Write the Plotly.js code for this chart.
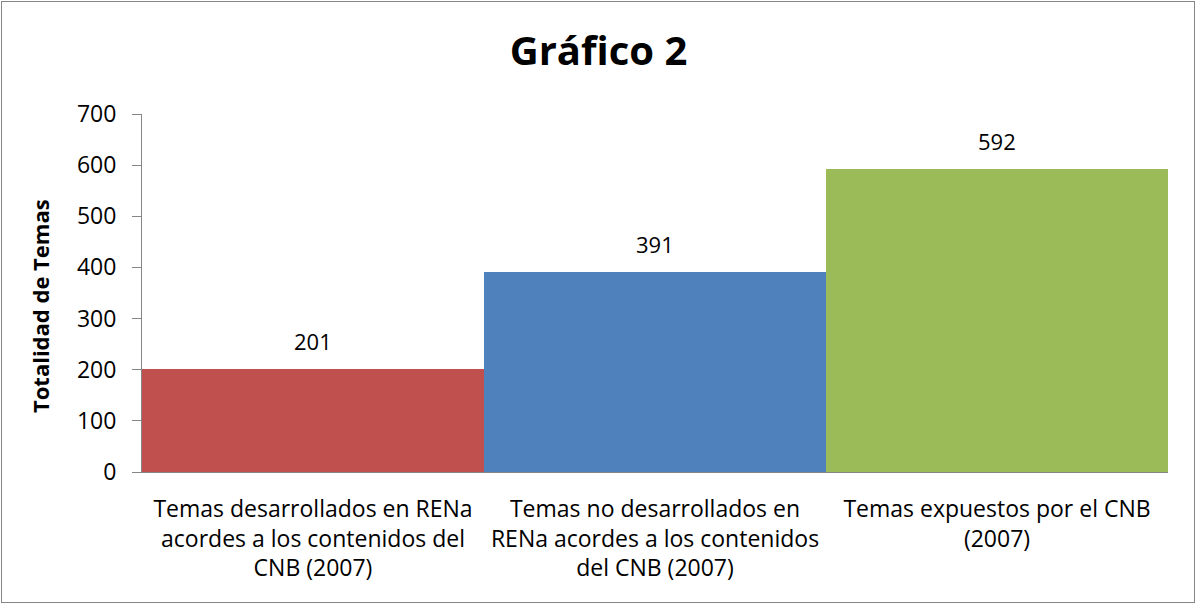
<!DOCTYPE html>
<html>
<head>
<meta charset="utf-8">
<script src="https://cdn.plot.ly/plotly-3.0.1.min.js"></script>
<style>
  html, body { margin: 0; padding: 0; background: #fff; }
  #chart { width: 1197px; height: 605px; }
  #frame { position: absolute; left: 1px; top: 1px; width: 1192px; height: 600px; border: 1px solid #868686; pointer-events: none; }
</style>
</head>
<body>
<div id="chart"></div>
<div id="frame"></div>
<script>
const categories = [
  "Temas desarrollados en RENa<br>acordes a los contenidos del<br>CNB (2007)",
  "Temas no desarrollados en<br>RENa acordes a los contenidos<br>del CNB (2007)",
  "Temas expuestos por el CNB<br>(2007)"
];
const values = [201, 391, 592];
const colors = ["#C0504D", "#4F81BD", "#9BBB59"];
const yTicks = [0, 100, 200, 300, 400, 500, 600, 700];
const yTitle = "Totalidad de Temas";

const FONT = "'Open Sans', 'Noto Sans', sans-serif";

const trace = {
  type: "bar",
  x: [0, 1, 2],
  y: values,
  width: 1,
  marker: { color: colors, line: { width: 0 } },
  hoverinfo: "skip"
};

const annotations = values.map((v, i) => ({
  x: i, y: v, xref: "x", yref: "y",
  text: String(v), showarrow: false,
  yanchor: "middle", yshift: 28,
  font: { family: FONT, size: 22, color: "#000" }
}));
annotations.push({
  xref: "paper", yref: "paper", x: -0.0994, y: 0.4637,
  xanchor: "center", yanchor: "middle",
  text: "<b>" + yTitle + "</b>", textangle: -90, showarrow: false,
  font: { family: FONT, size: 22, color: "#000" }
});

const layout = {
  width: 1197, height: 605,
  margin: { l: 142, r: 29, t: 114, b: 133 },
  paper_bgcolor: "#fff", plot_bgcolor: "#fff",
  showlegend: false,
  bargap: 0,
  title: {
    text: "<b>Gráfico 2</b>",
    font: { family: FONT, size: 40, color: "#000" },
    x: 0.5, xanchor: "center", y: 0.916, yanchor: "middle"
  },
  xaxis: {
    range: [-0.5, 2.5],
    tickvals: [0, 1, 2],
    ticktext: categories,
    ticks: "",
    ticklabelstandoff: 16,
    showline: true, linecolor: "#868686", linewidth: 1,
    showgrid: false, zeroline: false,
    tickfont: { family: FONT, size: 23, color: "#000" },
    fixedrange: true
  },
  yaxis: {
    range: [0, 700],
    tickvals: yTicks,
    ticks: "outside", ticklen: 9, tickcolor: "#868686", tickwidth: 1,
    ticklabelstandoff: 11,
    showline: true, linecolor: "#868686", linewidth: 1,
    showgrid: false, zeroline: false,
    tickfont: { family: FONT, size: 23, color: "#000" },
    fixedrange: true
  },
  annotations: annotations
};

Plotly.newPlot("chart", [trace], layout, { displayModeBar: false, staticPlot: true });
</script>
</body>
</html>
